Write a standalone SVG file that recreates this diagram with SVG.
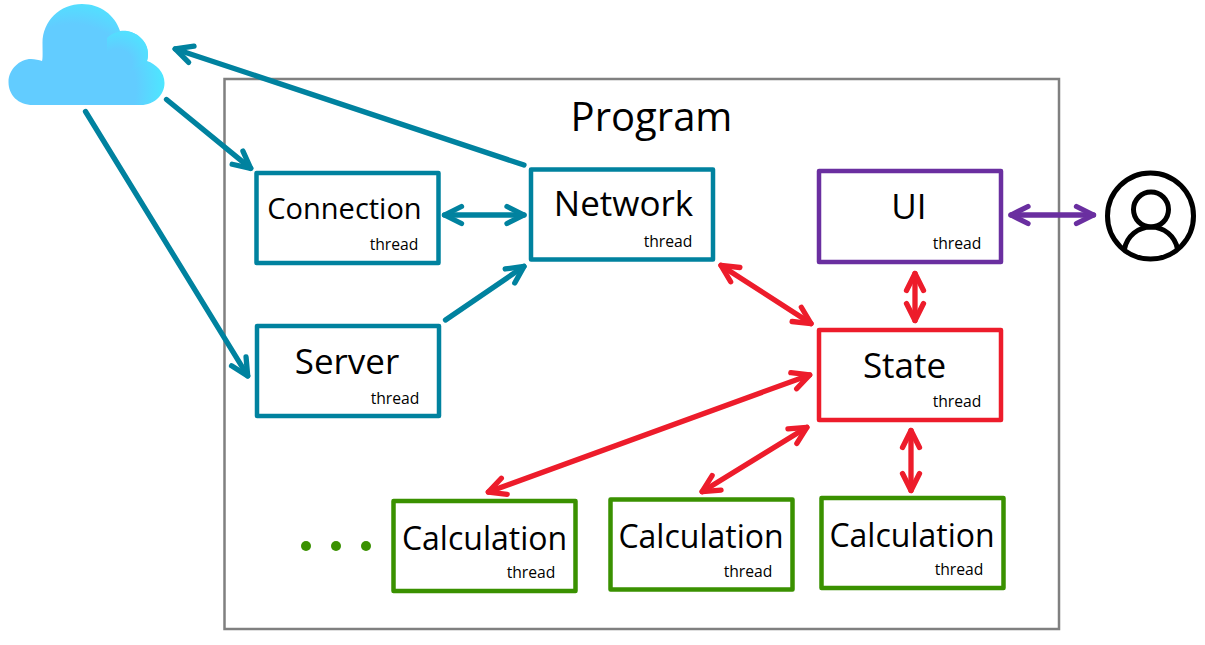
<svg xmlns="http://www.w3.org/2000/svg" width="1205" height="645" viewBox="0 0 1205 645">
<style>
text{font-family:"Open Sans","Noto Sans",sans-serif;fill:#000}
.t{font-size:29px;text-anchor:middle}
.m{font-size:35px;text-anchor:middle}
.k{font-size:32px;text-anchor:middle}
.s{font-size:15.700px;text-anchor:middle}
.box{fill:#fff;stroke-width:4.500;stroke-linejoin:round}
.blue{stroke:#00829f}.red{stroke:#ed1c2b}.pur{stroke:#6a2fa0}.grn{stroke:#3a9100}
.c{fill:none;stroke-width:5.300;stroke-linecap:round}
</style>
<defs>
<marker id="mb" markerUnits="userSpaceOnUse" markerWidth="30" markerHeight="30" refX="24" refY="15" orient="auto-start-reverse"><path d="M7 6.500L24 15L7 23.500" fill="none" stroke="#00829f" stroke-width="5.300" stroke-linecap="round" stroke-linejoin="round"/></marker>
<marker id="mr" markerUnits="userSpaceOnUse" markerWidth="30" markerHeight="30" refX="24" refY="15" orient="auto-start-reverse"><path d="M7 6.500L24 15L7 23.500" fill="none" stroke="#ed1c2b" stroke-width="5.300" stroke-linecap="round" stroke-linejoin="round"/></marker>
<marker id="mp" markerUnits="userSpaceOnUse" markerWidth="30" markerHeight="30" refX="24" refY="15" orient="auto-start-reverse"><path d="M7 6.500L24 15L7 23.500" fill="none" stroke="#6a2fa0" stroke-width="5.300" stroke-linecap="round" stroke-linejoin="round"/></marker>
<radialGradient id="cg" gradientUnits="userSpaceOnUse" cx="72" cy="88" r="94"><stop offset="0.68" stop-color="#62ccff"/><stop offset="1" stop-color="#4ce8ff"/></radialGradient>
<radialGradient id="cl" gradientUnits="userSpaceOnUse" cx="117" cy="64" r="33"><stop offset="0.45" stop-color="#62ccff"/><stop offset="1" stop-color="#52e0ff"/></radialGradient>
</defs>
<rect id="program" x="224.500" y="79" width="834.500" height="550" fill="#fff" stroke="#808080" stroke-width="2.500"/>
<text x="651.500" y="131" font-size="40" text-anchor="middle">Program</text>
<g id="cloud"><path d="M33 105C18 105 8.500 95 8.500 82C8.500 69 20 59 31 59C35 59 39 60 42 61C43 59 42.500 50 42.500 43C42.500 21 60 4 82 4C100 4 115 15 120 31C123 30.500 125 30.500 127 31C139 33 148 43 148 54C148 57 147.500 59 147 61C156 64 164.500 72 164.500 83C164.500 95 154 105 141 105Z" fill="url(#cg)"/><path d="M107 38C112 33 119 31 125 31C138 32 148 42 148 54C148 57 147.500 59 147 61L130 72L107 60Z" fill="url(#cl)"/></g>
<g id="connectors">
<path class="c blue" d="M524 165L175.200 48.900" marker-end="url(#mb)"/>
<path class="c blue" d="M166.500 99.500L250.700 168.400" marker-end="url(#mb)"/>
<path class="c blue" d="M85.500 111.500L247.700 375.900" marker-end="url(#mb)"/>
<path class="c blue" d="M444.500 215L524 215" marker-start="url(#mb)" marker-end="url(#mb)"/>
<path class="c blue" d="M445.500 320L524 266.400" marker-end="url(#mb)"/>
<path class="c red" d="M721 265.400L811 323.600" marker-start="url(#mr)" marker-end="url(#mr)"/>
<path class="c red" d="M915 273.500L915 320.500" marker-start="url(#mr)" marker-end="url(#mr)"/>
<path class="c red" d="M809.700 374.900L488.300 492.100" marker-start="url(#mr)" marker-end="url(#mr)"/>
<path class="c red" d="M806.900 427.300L702.100 491.700" marker-start="url(#mr)" marker-end="url(#mr)"/>
<path class="c red" d="M911 430.500L911 490.500" marker-start="url(#mr)" marker-end="url(#mr)"/>
<path class="c pur" d="M1011 215L1093.500 215" marker-start="url(#mp)" marker-end="url(#mp)"/>
</g>
<g id="connection"><rect class="box blue" x="256.500" y="173" width="182" height="90"/><text class="t" x="344.500" y="219">Connection</text><text class="s" x="394" y="250">thread</text></g>
<g id="network"><rect class="box blue" x="531" y="169.500" width="182" height="90"/><text class="m" x="623.500" y="216">Network</text><text class="s" x="668" y="247">thread</text></g>
<g id="server"><rect class="box blue" x="257" y="326" width="182" height="90"/><text class="m" x="347" y="374">Server</text><text class="s" x="395" y="404">thread</text></g>
<g id="ui"><rect class="box pur" x="819" y="171" width="182" height="91"/><text class="m" x="909" y="219">UI</text><text class="s" x="957" y="249">thread</text></g>
<g id="state"><rect class="box red" x="819" y="330" width="182" height="90"/><text class="m" x="904.500" y="378">State</text><text class="s" x="957" y="407">thread</text></g>
<g id="calc1"><rect class="box grn" x="393.500" y="501" width="182" height="90"/><text class="k" x="484.500" y="550">Calculation</text><text class="s" x="531" y="578">thread</text></g>
<g id="calc2"><rect class="box grn" x="610.500" y="499.500" width="182" height="90"/><text class="k" x="701" y="548">Calculation</text><text class="s" x="748" y="577">thread</text></g>
<g id="calc3"><rect class="box grn" x="821.500" y="498" width="182" height="90"/><text class="k" x="912" y="547">Calculation</text><text class="s" x="959" y="575">thread</text></g>
<g id="dots" fill="#3a9100"><circle cx="306" cy="546" r="5"/><circle cx="336" cy="546" r="5"/><circle cx="366" cy="546" r="5"/></g>
<g id="user" fill="none" stroke="#000" stroke-width="5"><circle cx="1150.500" cy="216" r="43"/><circle cx="1151" cy="209.500" r="17.500"/><path d="M1124.500 249C1127 236 1138 227 1151 227C1164 227 1175 236 1177.500 249"/></g>
</svg>
